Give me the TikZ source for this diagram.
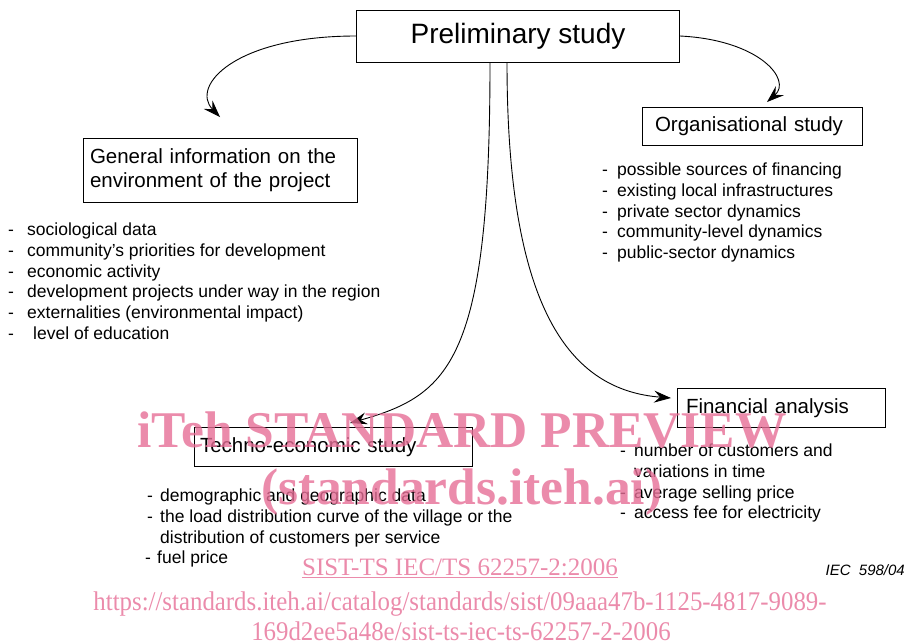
\documentclass[tikz,border=0pt]{standalone}
\usepackage{fontspec}
\setmainfont{Liberation Sans}
\newfontfamily\wmfont{Liberation Serif}
\usepackage{xcolor}
\usetikzlibrary{arrows.meta}
\definecolor{wmpink}{RGB}{230,110,150}
\newcommand{\hy}[1][15pt]{\makebox[#1][l]{-}}
\tikzset{
  box/.style={draw, line width=0.9pt, inner ysep=0pt, align=left, font=\fontsize{20.5}{24}\selectfont},
  lst/.style={anchor=north west, inner sep=0pt, align=left, font=\fontsize{17.5}{20.7}\selectfont},
  arr/.style={line width=0.9pt, -{Stealth[length=17pt,width=12pt,inset=6pt]}},
  wm/.style={text=wmpink, text opacity=0.8, inner sep=0pt, font=\wmfont\bfseries\fontsize{51.5}{52}\selectfont},
  wmurl/.style={text=wmpink, text opacity=0.8, inner sep=0pt, anchor=base, xscale=0.92, font=\wmfont\fontsize{27}{27}\selectfont}
}

\begin{document}
\begin{tikzpicture}[x=1pt,y=-1pt]
        \useasboundingbox (0,0) rectangle (909,643);
        % boxes
        \node[box, minimum width=323pt, minimum height=52pt, align=center, font=\fontsize{28}{32}\selectfont] (prelim) at (518,36) {Preliminary study};
        \node[box, text width=260pt, inner xsep=7pt, minimum height=64pt] (geninfo) at (220,170) {General information on the\\environment of the project};
        \node[box, text width=194pt, inner xsep=13pt, minimum height=38pt] (orgstudy) at (752,126) {Organisational study};
        \node[box, text width=266pt, inner xsep=6pt, minimum height=39pt] (techno) at (333,447) {Techno-economic study};
        \node[box, text width=190pt, inner xsep=9pt, minimum height=39pt] (finan) at (781,408) {Financial analysis};
        % lists
        \node[lst] (genlist) at (8,223) {\hy[19pt]sociological data\\\hy[19pt]community's priorities for development\\\hy[19pt]economic activity\\\hy[19pt]development projects under way in the region\\\hy[19pt]externalities (environmental impact)\\\hy[25pt]level of education};
        \node[lst] (orglist) at (602,163) {\hy possible sources of financing\\\hy existing local infrastructures\\\hy private sector dynamics\\\hy community-level dynamics\\\hy public-sector dynamics};
        \node[lst] (techlist) at (147,489) {\hy[13pt]demographic and geographic data\\\hy[13pt]the load distribution curve of the village or the\\\hspace*{13pt}distribution of customers per service\\\hspace*{-2pt}\hy[12pt]fuel price};
        \node[lst] (finlist) at (620,444) {\hy[14pt]number of customers and\\\hspace*{14pt}variations in time\\\hy[14pt]average selling price\\\hy[14pt]access fee for electricity};
        \node[anchor=east, inner sep=0pt, font=\itshape\fontsize{15}{17}\selectfont] (ieclbl) at (905,570) {IEC\ \ 598/04};
        % arrows
        \coordinate (genTip) at (220,117);
        \coordinate (orgTip) at (767,102);
        \coordinate (techTip) at (350,423);
        \coordinate (finTip) at (671,398);
        \draw[arr] (prelim.west) .. controls (235,36) and (190,86) .. (genTip);
        \draw[arr] (prelim.east) .. controls (760,40) and (792,80) .. (orgTip);
        \draw[arr] ([xshift=-28pt]prelim.south) .. controls (490,360) and (450,395) .. (techTip);
        \draw[arr] ([xshift=-11pt]prelim.south) .. controls (507,310) and (570,390) .. (finTip);
        % watermark
        \node[wm] (wmtitle) at (462,430) {iTeh STANDARD PREVIEW};
        \node[wm] (wmsite) at (462,492) {(standards.iteh.ai)};
        \node[wm, font=\wmfont\fontsize{25}{25}\selectfont] (wmcode) at (460,568) {\underline{SIST-TS IEC/TS 62257-2:2006}};
        \node[wmurl] (wmurla) at (460,610) {https://standards.iteh.ai/catalog/standards/sist/09aaa47b-1125-4817-9089-};
        \node[wmurl] (wmurlb) at (461,640) {169d2ee5a48e/sist-ts-iec-ts-62257-2-2006};
\end{tikzpicture}
\end{document}
